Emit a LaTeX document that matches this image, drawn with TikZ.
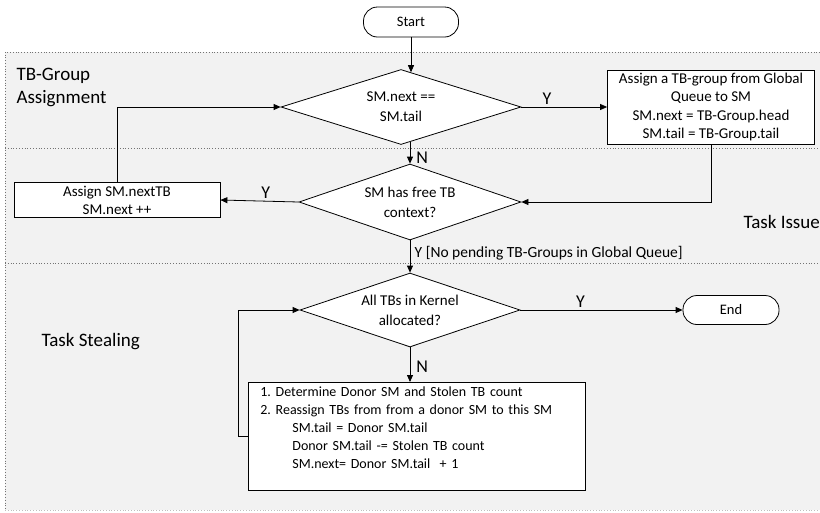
\documentclass[tikz,border=0pt]{standalone}
\usepackage{fontspec}
\setmainfont{Carlito}
\usepackage{tikz}
\usetikzlibrary{calc}
\usetikzlibrary{positioning}
\usetikzlibrary{shapes.geometric}
\usetikzlibrary{arrows.meta}

\begin{document}
\begin{tikzpicture}[x=1pt, y=-1pt,
        every node/.style={font=\fontsize{15}{20}\selectfont},
        terminal/.style={rectangle, rounded corners=14pt, draw=black, fill=white, line width=0.8pt, minimum width=95pt, minimum height=30pt, font=\fontsize{14.5}{18}\selectfont},
        decision/.style={diamond, shape aspect=3, draw=black, fill=white, line width=0.8pt, inner sep=0pt, align=center},
        process/.style={rectangle, draw=black, fill=white, line width=0.8pt, align=center},
        heading/.style={font=\fontsize{19}{23}\selectfont, align=left, anchor=west},
        answer/.style={font=\fontsize{18}{20}\selectfont, inner sep=2pt},
        arr/.style={line width=0.8pt, -{Triangle[length=7pt, width=6pt]}},
        sep/.style={dotted, line width=0.8pt, draw=black!55}]
            \useasboundingbox (0, 0) rectangle (820, 512);
            % sections
            \fill[black!5] (5, 52) rectangle (820, 510);
            \draw[sep] (820, 52) -- (5, 52) -- (5, 510);
            \draw[sep, draw=black!25] (5, 510) -- (820, 510);
            \foreach \y in {148, 263}
            {
                \draw[sep] (5, \y) -- (820, \y);
            }
            \node[heading] (hAssign) at (13, 87) {TB-Group\\Assignment};
            \node[heading] (hIssue) at (740, 222) {Task Issue};
            \node[heading] (hSteal) at (38, 342) {Task Stealing};

            % flow
            \node[terminal] (start) at (411, 22) {Start};
            \node[decision, minimum width=240pt, minimum height=75pt] (check) at (401, 107) {SM.next ==\\SM.tail};
            \node[process, minimum width=207pt, minimum height=74pt, inner sep=0pt, font=\fontsize{15}{18.5}\selectfont] (group) at (711, 107) {Assign a TB-group from Global\\Queue to SM\\SM.next = TB-Group.head\\SM.tail = TB-Group.tail};
            \node[decision, minimum width=222pt, minimum height=76pt] (free) at (410, 202) {SM has free TB\\context?};
            \node[process, minimum width=206pt, minimum height=35pt, inner sep=0pt, font=\fontsize{15}{18}\selectfont] (nextTB) at (117, 200) {Assign SM.nextTB\\SM.next ++};
            \node[decision, minimum width=220pt, minimum height=74pt] (alloc) at (410, 310) {All TBs in Kernel\\allocated?};
            \node[terminal, minimum width=96pt, minimum height=29pt] (finish) at (731, 310) {End};
            \node[process, align=left, anchor=north west, text width=313pt, minimum height=108pt, inner xsep=12pt, inner ysep=0pt, font=\fontsize{14}{18}\selectfont] (steal) at (248, 382)
                {1.\ Determine Donor SM and Stolen TB count\\
                 2.\ Reassign TBs from from a donor SM to this SM\\
                 \hspace*{32pt}SM.tail = Donor SM.tail\\
                 \hspace*{32pt}Donor SM.tail -= Stolen TB count\\
                 \hspace*{32pt}SM.next= Donor SM.tail \ + 1\\
                 \mbox{}};

            \draw[arr] (start.south) -- (start.south |- check.74);
            \draw[arr] (check.east) -- node[answer, above, pos=0.3] {Y} (group.west);
            \draw[arr] (free.north |- check.286) -- node[answer, right=4pt, pos=0.75] {N} (free.north);
            \draw[arr] (group.south) |- (free.east);
            \draw[arr] (free.west) -- node[answer, above, pos=0.42] {Y} (nextTB.east);
            \draw[arr] (nextTB.north) |- (check.west);
            \draw[arr] (free.south) -- node[right=1pt, pos=0.4, font=\fontsize{15.5}{18}\selectfont] {Y [No pending TB-Groups in Global Queue]} (alloc.north);
            \draw[arr] (alloc.east) -- node[answer, above, pos=0.37] {Y} (finish.west);
            \draw[arr] (alloc.south) -- node[answer, right=4pt, pos=0.57] {N} (alloc.south |- steal.north);
            \draw[arr] (steal.west) -- ++(-10, 0) |- (alloc.west);
        \end{tikzpicture}
\end{document}
